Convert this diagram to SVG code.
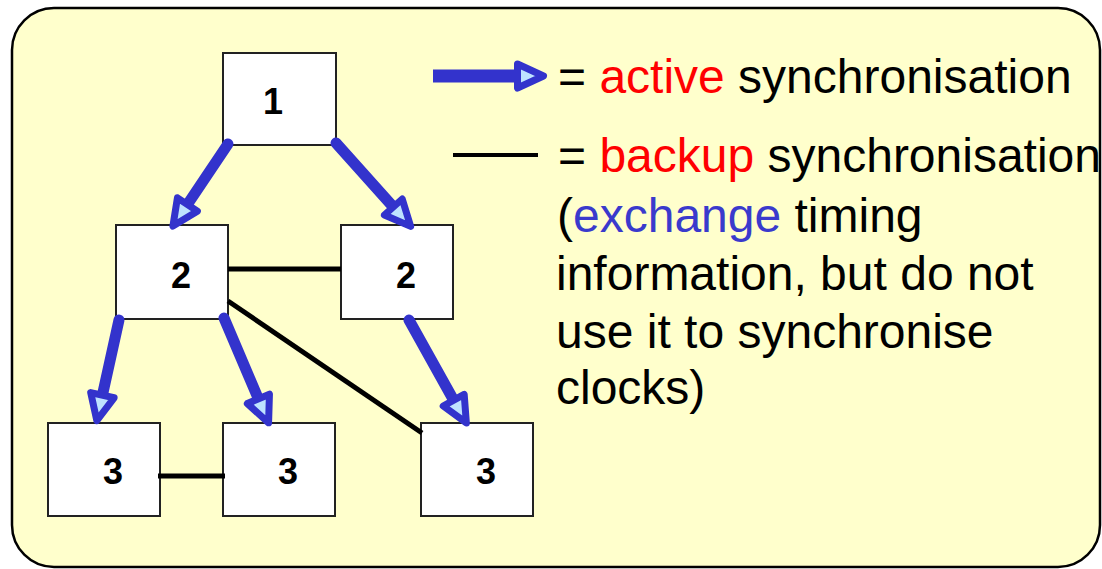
<svg xmlns="http://www.w3.org/2000/svg" width="1102" height="569" viewBox="0 0 1102 569">
  <style>
    .panel { fill: #FFFFCC; stroke: #000; stroke-width: 2.5; }
    .node rect { fill: #FFFFFF; stroke: #222; stroke-width: 2; }
    .node text { font-family: "Liberation Sans", Arial, sans-serif; font-weight: bold; font-size: 36px; fill: #000; text-anchor: middle; }
    .active { fill: none; stroke: #3333CC; stroke-width: 11; stroke-linecap: round; marker-end: url(#head); }
    .backup { fill: none; stroke: #000; stroke-width: 5; }
    .label { font-family: "Liberation Sans", Arial, sans-serif; font-size: 48px; fill: #000; }
    .red { fill: #FF0000; }
    .blue { fill: #3A3ACC; }
  </style>
  <defs>
    <marker id="head" markerUnits="userSpaceOnUse" viewBox="-5 -17 36 34" refX="0" refY="0" markerWidth="36" markerHeight="34" orient="auto" overflow="visible">
      <path d="M0,-12 L26,0 L0,12 Z" fill="#BFE3FF" stroke="#3333CC" stroke-width="7" stroke-linejoin="round"/>
    </marker>
  </defs>

  <rect class="panel" x="12" y="8" width="1088" height="559" rx="42" ry="42"/>

  <g id="node-1" class="node">
    <rect x="223" y="53" width="113" height="92"/>
    <text x="273" y="114">1</text>
  </g>
  <g id="node-2a" class="node">
    <rect x="116" y="225" width="112" height="94"/>
    <text x="181" y="288">2</text>
  </g>
  <g id="node-2b" class="node">
    <rect x="341" y="225" width="112" height="94"/>
    <text x="406" y="288">2</text>
  </g>
  <g id="node-3a" class="node">
    <rect x="48" y="423" width="112" height="93"/>
    <text x="113" y="484">3</text>
  </g>
  <g id="node-3b" class="node">
    <rect x="223" y="423" width="112" height="93"/>
    <text x="288" y="484">3</text>
  </g>
  <g id="node-3c" class="node">
    <rect x="421" y="423" width="112" height="93"/>
    <text x="486" y="484">3</text>
  </g>

  <g id="connectors">
    <!-- backup links -->
    <line class="backup" x1="228" y1="269" x2="341" y2="269"/>
    <line class="backup" x1="228" y1="301" x2="422" y2="433"/>
    <line class="backup" x1="158" y1="476" x2="225" y2="476"/>
    <!-- active links -->
    <path class="active" d="M228,144 L187.4,204.5"/>
    <path class="active" d="M336,143 L393.3,207"/>
    <path class="active" d="M119,320 L102.4,395.2"/>
    <path class="active" d="M224,318 L258.4,398.9"/>
    <path class="active" d="M409,320 L453.7,400.2"/>
  </g>

  <g id="legend">
    <path class="active" style="stroke-width:13; stroke-linecap:butt" d="M433,76 L517.5,76"/>
    <line x1="453" y1="155" x2="538" y2="155" stroke="#000" stroke-width="4"/>
    <text class="label" x="558" y="93">= <tspan class="red">active</tspan> synchronisation</text>
    <text class="label" x="558" y="172">= <tspan class="red">backup</tspan> synchronisation</text>
    <text class="label" x="557" y="232">(<tspan class="blue">exchange</tspan> timing</text>
    <text class="label" x="556" y="290">information, but do not</text>
    <text class="label" x="556" y="348">use it to synchronise</text>
    <text class="label" x="556" y="404">clocks)</text>
  </g>
</svg>
